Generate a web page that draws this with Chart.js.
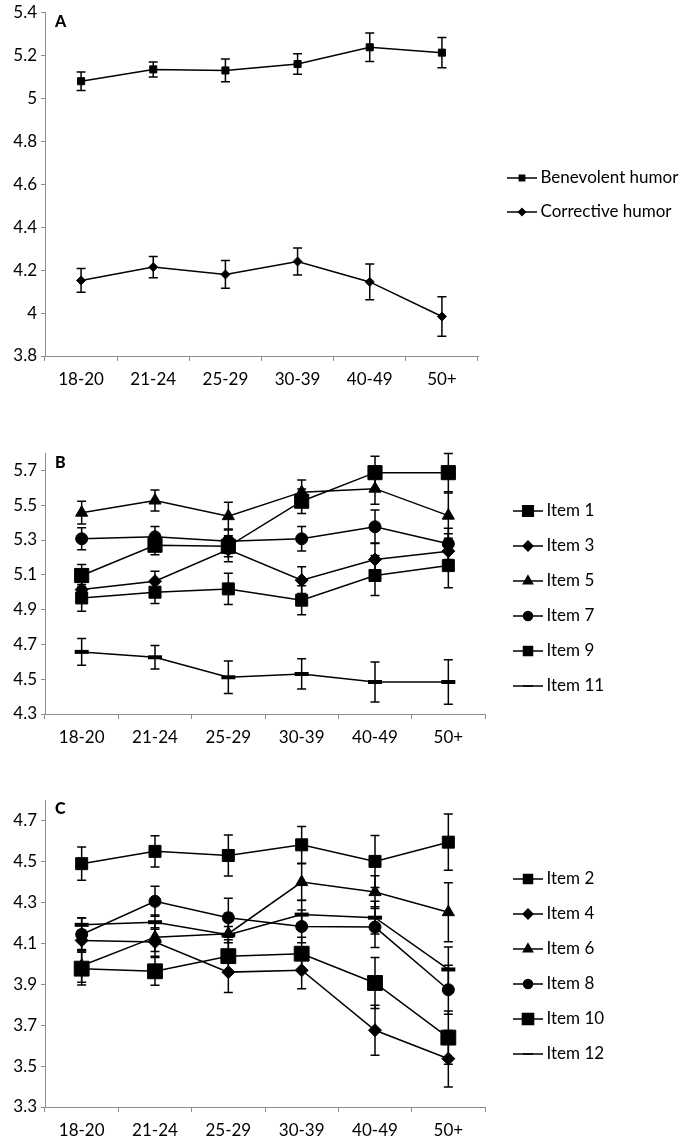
<!DOCTYPE html>
<html>
<head>
<meta charset="utf-8">
<script src="https://cdn.jsdelivr.net/npm/chart.js@4.4.1/dist/chart.umd.min.js"></script>
<style>
  body { margin: 0; background: #fff; }
  .panel { position: absolute; left: 0; }
  .tag { position: absolute; left: 55px; font: 900 16px Lato, sans-serif; line-height: 18px; color: #000; }
</style>
</head>
<body>
<div class="panel" style="top:0"><canvas id="chartA" width="686" height="400"></canvas></div>
<div class="panel" style="top:400px"><canvas id="chartB" width="686" height="350"></canvas></div>
<div class="panel" style="top:750px"><canvas id="chartC" width="686" height="392"></canvas></div>
<div class="tag" style="top:12px">A</div>
<div class="tag" style="top:453px">B</div>
<div class="tag" style="top:799px">C</div>
<script>
const ages = ['18-20', '21-24', '25-29', '30-39', '40-49', '50+'];

// A - humor styles
const benevolent = [5.08, 5.135, 5.13, 5.16, 5.238, 5.213];
const benevolentErr = [0.043, 0.035, 0.053, 0.048, 0.066, 0.07];
const corrective = [4.152, 4.214, 4.18, 4.24, 4.145, 3.984];
const correctiveErr = [0.055, 0.05, 0.065, 0.063, 0.083, 0.092];

// B - odd items
const item1 = [5.096, 5.27, 5.264, 5.523, 5.687, 5.687];
const item1Err = [0.063, 0.055, 0.06, 0.07, 0.095, 0.11];
const item3 = [5.015, 5.063, 5.245, 5.069, 5.188, 5.236];
const item3Err = [0.05, 0.058, 0.07, 0.077, 0.095, 0.1];
const item5 = [5.457, 5.527, 5.437, 5.575, 5.595, 5.44];
const item5Err = [0.065, 0.06, 0.08, 0.07, 0.09, 0.13];
const item7 = [5.307, 5.318, 5.293, 5.307, 5.376, 5.278];
const item7Err = [0.063, 0.06, 0.07, 0.07, 0.096, 0.09];
const item9 = [4.967, 5.0, 5.019, 4.954, 5.096, 5.153];
const item9Err = [0.077, 0.065, 0.09, 0.083, 0.115, 0.128];
const item11 = [4.657, 4.626, 4.511, 4.53, 4.484, 4.484];
const item11Err = [0.077, 0.067, 0.093, 0.087, 0.115, 0.128];

// C - even items
const item2 = [4.489, 4.549, 4.529, 4.581, 4.5, 4.594];
const item2Err = [0.081, 0.076, 0.1, 0.09, 0.127, 0.137];
const item4 = [4.114, 4.106, 3.959, 3.968, 3.675, 3.536];
const item4Err = [0.05, 0.07, 0.1, 0.09, 0.122, 0.138];
const item6 = [3.99, 4.13, 4.147, 4.399, 4.35, 4.252];
const item6Err = [0.08, 0.07, 0.1, 0.09, 0.08, 0.144];
const item8 = [4.143, 4.305, 4.225, 4.182, 4.179, 3.873];
const item8Err = [0.08, 0.073, 0.095, 0.08, 0.1, 0.12];
const item10 = [3.976, 3.963, 4.037, 4.049, 3.906, 3.639];
const item10Err = [0.08, 0.068, 0.08, 0.08, 0.125, 0.13];
const item12 = [4.19, 4.203, 4.142, 4.24, 4.225, 3.972];
const item12Err = [0.035, 0.035, 0.04, 0.07, 0.08, 0.11];

const ticksA = [3.8, 4, 4.2, 4.4, 4.6, 4.8, 5, 5.2, 5.4];
const ticksB = [4.3, 4.5, 4.7, 4.9, 5.1, 5.3, 5.5, 5.7];
const ticksC = [3.3, 3.5, 3.7, 3.9, 4.1, 4.3, 4.5, 4.7];

Chart.defaults.font.family = 'Lato, "Open Sans", sans-serif';
Chart.defaults.color = '#000';

const axisGrey = '#8c8c8c';

// vertical error bars, drawn under the lines and markers
const errorBars = {
  id: 'errorBars',
  beforeDatasetsDraw(chart) {
    const { ctx, scales: { y } } = chart;
    ctx.save();
    ctx.strokeStyle = '#000';
    ctx.lineWidth = 1.5;
    chart.data.datasets.forEach((ds, i) => {
      chart.getDatasetMeta(i).data.forEach((pt, j) => {
        const hi = y.getPixelForValue(ds.data[j] + ds.errors[j]);
        const lo = y.getPixelForValue(ds.data[j] - ds.errors[j]);
        ctx.beginPath();
        ctx.moveTo(pt.x, hi); ctx.lineTo(pt.x, lo);
        ctx.moveTo(pt.x - 4.5, hi); ctx.lineTo(pt.x + 4.5, hi);
        ctx.moveTo(pt.x - 4.5, lo); ctx.lineTo(pt.x + 4.5, lo);
        ctx.stroke();
      });
    });
    ctx.restore();
  }
};

// fixes the legend width (so the plot keeps its right edge) and moves the items
const placeLegend = {
  id: 'placeLegend',
  beforeLayout(chart, args, opts) {
    const lg = chart.legend;
    if (lg && !lg._fixed) {
      const fit = lg.fit;
      lg.fit = function () { fit.call(this); this.width = opts.width; };
      lg._fixed = true;
    }
  },
  afterLayout(chart, args, opts) {
    const lg = chart.legend;
    const pad = lg.options.labels.padding;
    const fs = lg.options.labels.font.size;
    const dx = opts.x - (lg.left + pad);
    const dy = opts.y - (lg.top + pad + fs / 2);
    lg.left += dx; lg.right += dx;
    lg.top += dy; lg.bottom += dy;
  }
};

// line + marker sample for the legend
function legendIcon(ds) {
  const c = document.createElement('canvas');
  c.width = 32; c.height = 22;
  const g = c.getContext('2d');
  g.strokeStyle = '#000'; g.fillStyle = '#000'; g.lineWidth = 1.5;
  g.beginPath(); g.moveTo(1, 11); g.lineTo(31, 11); g.stroke();
  const r = ds.pointStyle === 'line' ? 5 : ds.pointRadius * 0.75;
  Chart.helpers.drawPoint(g, { pointStyle: ds.pointStyle, radius: r, borderWidth: ds.pointBorderWidth }, 16, 11);
  return c;
}

function makeChart(id, ticks, yMax, series, box) {
  return new Chart(document.getElementById(id), {
    type: 'line',
    data: {
      labels: ages,
      datasets: series.map(s => ({
        label: s.label,
        data: s.data,
        errors: s.errors,
        borderColor: '#000',
        backgroundColor: '#000',
        borderWidth: 1.5,
        tension: 0,
        clip: false,
        pointStyle: s.marker,
        pointRadius: s.size,
        pointBorderWidth: s.marker === 'line' ? 4 : 1,
        pointBackgroundColor: '#000',
        pointBorderColor: '#000'
      }))
    },
    options: {
      responsive: false,
      animation: false,
      events: [],
      layout: { padding: { top: box.top, left: 0, right: 0, bottom: 0 } },
      scales: {
        x: {
          offset: true,
          grid: { offset: true, drawOnChartArea: false, tickLength: 5, color: axisGrey },
          border: { color: axisGrey },
          ticks: { padding: 8, maxRotation: 0, font: { size: 17 } },
          afterFit: sc => { sc.height = box.xh; }
        },
        y: {
          min: ticks[0],
          max: yMax,
          grid: { drawOnChartArea: false, tickLength: 4, color: axisGrey },
          border: { color: axisGrey },
          ticks: { padding: 4, autoSkip: false, font: { size: 17, lineHeight: 1 },
                   callback: v => String(+v.toFixed(1)) },
          afterBuildTicks: sc => { sc.ticks = ticks.map(v => ({ value: v })); },
          afterFit: sc => { sc.width = 45; }
        }
      },
      plugins: {
        tooltip: { enabled: false },
        legend: {
          position: 'right',
          align: 'start',
          labels: {
            usePointStyle: true,
            pointStyleWidth: 20,
            padding: box.gap,
            font: { size: 17 },
            generateLabels: chart => chart.data.datasets.map((ds, i) => ({
              text: ds.label,
              pointStyle: legendIcon(ds),
              fillStyle: '#000',
              strokeStyle: '#000',
              lineWidth: 0,
              hidden: false,
              datasetIndex: i
            }))
          }
        },
        placeLegend: { width: 686 - box.right, x: box.lx, y: box.ly }
      }
    },
    plugins: [errorBars, placeLegend]
  });
}

makeChart('chartA', ticksA, 5.4, [
  { label: 'Benevolent humor', data: benevolent, errors: benevolentErr, marker: 'rect', size: 5 },
  { label: 'Corrective humor', data: corrective, errors: correctiveErr, marker: 'rectRot', size: 4.5 }
], { top: 8, xh: 44, right: 478, lx: 512, ly: 178, gap: 17 });

makeChart('chartB', ticksB, 5.8, [
  { label: 'Item 1', data: item1, errors: item1Err, marker: 'rect', size: 10 },
  { label: 'Item 3', data: item3, errors: item3Err, marker: 'rectRot', size: 6.5 },
  { label: 'Item 5', data: item5, errors: item5Err, marker: 'triangle', size: 7 },
  { label: 'Item 7', data: item7, errors: item7Err, marker: 'circle', size: 6 },
  { label: 'Item 9', data: item9, errors: item9Err, marker: 'rect', size: 8.5 },
  { label: 'Item 11', data: item11, errors: item11Err, marker: 'line', size: 7 }
], { top: 53, xh: 36, right: 485, lx: 518, ly: 111, gap: 18 });

makeChart('chartC', ticksC, 4.8, [
  { label: 'Item 2', data: item2, errors: item2Err, marker: 'rect', size: 8.5 },
  { label: 'Item 4', data: item4, errors: item4Err, marker: 'rectRot', size: 6.5 },
  { label: 'Item 6', data: item6, errors: item6Err, marker: 'triangle', size: 7 },
  { label: 'Item 8', data: item8, errors: item8Err, marker: 'circle', size: 6 },
  { label: 'Item 10', data: item10, errors: item10Err, marker: 'rect', size: 10.5 },
  { label: 'Item 12', data: item12, errors: item12Err, marker: 'line', size: 7 }
], { top: 50, xh: 35, right: 485, lx: 518, ly: 129, gap: 18 });
</script>
</body>
</html>
